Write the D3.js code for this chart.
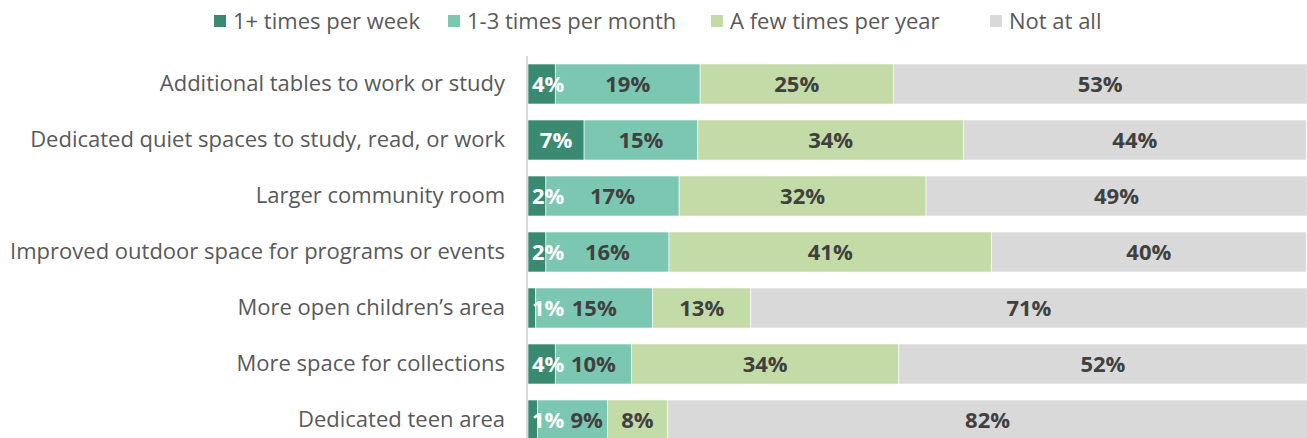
<!DOCTYPE html>
<html>
<head>
<meta charset="utf-8">
<script src="https://cdn.jsdelivr.net/npm/d3@7"></script>
<style>
    body { margin: 0; background: #fff; overflow: hidden; }
    svg { display: block; font-family: "Open Sans", sans-serif; }
</style>
</head>
<body>
<script>
// categories (top to bottom)
var categories = [
    "Additional tables to work or study",
    "Dedicated quiet spaces to study, read, or work",
    "Larger community room",
    "Improved outdoor space for programs or events",
    "More open children\u2019s area",
    "More space for collections",
    "Dedicated teen area"
];

var seriesNames = ["1+ times per week", "1-3 times per month", "A few times per year", "Not at all"];
var seriesColors = ["#3a8a72", "#7cc7b2", "#c3dba6", "#d9d9d9"];

// percentages, one array per series
var weekly = [3.5, 7.2, 2.3, 2.3, 1.0, 3.5, 1.2];
var monthly = [18.6, 14.6, 17.1, 15.8, 15.0, 9.8, 9.0];
var yearly = [24.8, 34.1, 31.7, 41.4, 12.6, 34.3, 7.7];
var notAtAll = [53.1, 44.0, 48.9, 40.4, 71.4, 52.4, 82.2];

var width = 1307, height = 438;
var margin = {top: 56, right: 0, bottom: 0, left: 528};

var svg = d3.select("body").append("svg")
    .attr("width", width)
    .attr("height", height);

// build rows for the stack
var keys = ["weekly", "monthly", "yearly", "notAtAll"];
var rows = categories.map(function (c, i) {
    return {cat: c, weekly: weekly[i], monthly: monthly[i], yearly: yearly[i], notAtAll: notAtAll[i]};
});
var stacked = d3.stack().keys(keys)(rows);

var x = d3.scaleLinear().domain([0, 100]).range([margin.left, 1307]);
var y = d3.scaleBand().domain(categories)
    .range([margin.top, margin.top + 56 * categories.length])
    .paddingInner(16 / 56).paddingOuter(8 / 56);

// bars
var layer = svg.selectAll(".layer")
    .data(stacked)
    .enter().append("g")
    .attr("class", "layer")
    .attr("fill", function (d, i) { return seriesColors[i]; });

layer.selectAll("rect")
    .data(function (d) { return d; })
    .enter().append("rect")
    .attr("x", function (d) { return x(d[0]); })
    .attr("y", function (d) { return y(d.data.cat); })
    .attr("width", function (d) { return x(d[1]) - x(d[0]); })
    .attr("height", y.bandwidth())
    .attr("stroke", "#fff")
    .attr("stroke-width", 0.6);

// value labels, drawn on top of all bars
var labels = svg.append("g").attr("class", "labels");
var firstRight = {};
stacked.forEach(function (s, si) {
    labels.selectAll(".lbl" + si)
        .data(s)
        .enter().append("text")
        .attr("class", "lbl" + si)
        .attr("y", function (d) { return y(d.data.cat) + y.bandwidth() / 2; })
        .attr("dy", "0.36em")
        .attr("text-anchor", "middle")
        .attr("fill", si === 0 ? "#ffffff" : "#404040")
        .style("font-size", "22px")
        .style("font-weight", "bold")
        .text(function (d) { return Math.round(d[1] - d[0]) + "%"; })
        .attr("x", function (d, i) {
            var w = this.getComputedTextLength();
            var cx = (x(d[0]) + x(d[1])) / 2;
            if (si === 0) {
                // narrow first segments: keep label inside the plot
                cx = Math.max(cx, x(d[0]) + w / 2 + 4);
                firstRight[i] = cx + w / 2;
            } else if (si === 1) {
                // push away from the first label if they would collide
                cx = Math.max(cx, firstRight[i] + 6 + w / 2);
            }
            return cx;
        });
});

// axis line and category labels
svg.append("g")
    .attr("transform", "translate(" + (margin.left - 1) + ",0)")
    .call(d3.axisLeft(y).tickSize(0).tickPadding(22))
    .call(function (g) {
        g.select(".domain").remove();
        g.selectAll("text")
            .attr("fill", "#595959")
            .style("font-size", "22px")
            .style("font-family", "'Open Sans', sans-serif");
    });

svg.append("line")
    .attr("x1", margin.left - 1).attr("x2", margin.left - 1)
    .attr("y1", margin.top).attr("y2", height)
    .attr("stroke", "#d9d9d9")
    .attr("stroke-width", 2);

// legend
var legendX = [214, 448, 711, 990];
var legend = svg.selectAll(".legend")
    .data(seriesNames)
    .enter().append("g")
    .attr("class", "legend")
    .attr("transform", function (d, i) { return "translate(" + legendX[i] + ",21)"; });

legend.append("rect")
    .attr("x", 0).attr("y", -6)
    .attr("width", 12).attr("height", 12)
    .attr("fill", function (d, i) { return seriesColors[i]; });

legend.append("text")
    .attr("x", 19)
    .attr("dy", "0.36em")
    .attr("fill", "#595959")
    .style("font-size", "22px")
    .text(function (d) { return d; });
</script>
</body>
</html>
